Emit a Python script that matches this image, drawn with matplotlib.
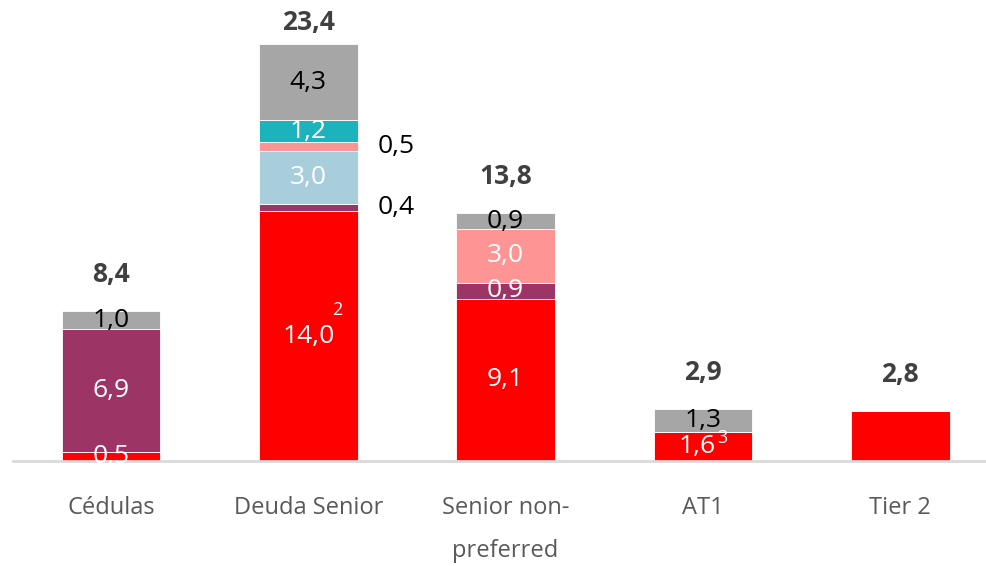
import matplotlib.pyplot as plt
import numpy as np

# categories and stacked segments (bottom -> top)
categories = ["Cédulas", "Deuda Senior", "Senior non-\npreferred", "AT1", "Tier 2"]
totals = ["8,4", "23,4", "13,8", "2,9", "2,8"]

red = [0.5, 14.0, 9.1, 1.6, 2.8]
purple = [6.9, 0.4, 0.9, 0.0, 0.0]
lightblue = [0.0, 3.0, 0.0, 0.0, 0.0]
pink = [0.0, 0.5, 3.0, 0.0, 0.0]
teal = [0.0, 1.2, 0.0, 0.0, 0.0]
gray = [1.0, 4.3, 0.9, 1.3, 0.0]

# label text per segment ("" = no label inside)
red_lbl = ["0,5", "14,0", "9,1", "1,6", ""]
purple_lbl = ["6,9", "", "0,9", "", ""]
lightblue_lbl = ["", "3,0", "", "", ""]
pink_lbl = ["", "", "3,0", "", ""]
teal_lbl = ["", "1,2", "", "", ""]
gray_lbl = ["1,0", "4,3", "0,9", "1,3", ""]

# small segments labelled outside the bar (Deuda Senior)
side_lbl = {("pink", 1): "0,5", ("purple", 1): "0,4"}

# footnote markers on red segments: index -> (text, dx, dy in points)
footnotes = {1: ("2", 21, 19), 3: ("3", 14, 6)}

series = [
    ("red", red, red_lbl, "#FF0000", "white"),
    ("purple", purple, purple_lbl, "#9C3565", "white"),
    ("lightblue", lightblue, lightblue_lbl, "#A8CDDB", "white"),
    ("pink", pink, pink_lbl, "#FF9494", "white"),
    ("teal", teal, teal_lbl, "#1CB3BD", "white"),
    ("gray", gray, gray_lbl, "#A6A6A6", "black"),
]

plt.rcParams['font.family'] = ['Open Sans', 'DejaVu Sans']

fig = plt.figure(figsize=(9.87, 5.66), dpi=100)
ax = fig.add_axes([13 / 987, 105 / 566, 974 / 987, 461 / 566])

x = np.arange(len(categories))
width = 0.5
bottom = np.zeros(len(categories))

for name, vals, lbls, col, tcol in series:
    vals = np.array(vals)
    ax.bar(x, vals, width, bottom=bottom, color=col, edgecolor="white", linewidth=0.6)
    for i in range(len(x)):
        if vals[i] == 0:
            continue
        yc = bottom[i] + vals[i] / 2
        if lbls[i]:
            dx = -4 if (name == "red" and i == 3) else 0
            ax.annotate(lbls[i], (x[i], yc), xytext=(dx, 0), textcoords="offset points",
                        ha="center", va="center", color=tcol, fontsize=19)
        if (name, i) in side_lbl:
            ax.text(x[i] + width / 2 + 0.1, yc, side_lbl[(name, i)], ha="left", va="center",
                    color="black", fontsize=19)
    bottom += vals

for i, (txt, dx, dy) in footnotes.items():
    ax.annotate(txt, (x[i], red[i] / 2), xytext=(dx, dy), textcoords="offset points",
                ha="center", va="center", color="white", fontsize=13)

ymax = 25.85
for i in range(len(x)):
    ax.text(x[i], min(bottom[i] + 2.05, ymax - 1.25), totals[i], ha="center", va="center",
            fontsize=19, fontweight="bold", color="#404040")

ax.set_xlim(-0.497, 4.44)
ax.set_ylim(0, ymax)
ax.set_xticks(x)
ax.set_xticklabels(categories, fontsize=17, color="#595959", linespacing=2.05, va="top")
ax.tick_params(axis="x", length=0, pad=25)
ax.set_yticks([])
for s in ["top", "right", "left"]:
    ax.spines[s].set_visible(False)
ax.spines["bottom"].set_color("#D9D9D9")
ax.spines["bottom"].set_linewidth(2)

fig.savefig("out.png", dpi=100)
